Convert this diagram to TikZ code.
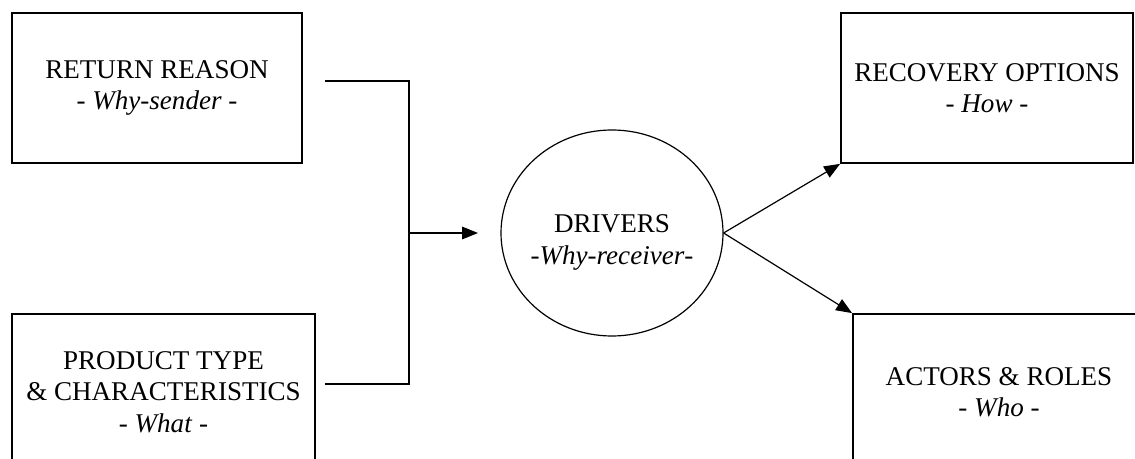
\documentclass[tikz,border=0pt]{standalone}
\usepackage{fontspec}
\setmainfont{Liberation Serif}
\usetikzlibrary{shapes.geometric,arrows.meta}

\tikzset{every picture/.style={line width=0.75pt}}
\tikzset{
  box/.style={draw, line width=1.3pt, align=center, inner sep=0pt, font=\fontsize{20.3}{23.5}\selectfont},
  hub/.style={draw, ellipse, line width=0.9pt, inner sep=0pt, minimum width=166.5pt, minimum height=154.5pt},
  hubtext/.style={align=center, inner sep=0pt, font=\fontsize{20.3}{24.5}\selectfont},
  link/.style={line width=0.9pt},
  arrowlink/.style={line width=0.9pt, -{Triangle[length=12pt,width=9.5pt]}}
}

\begin{document}
\begin{tikzpicture}[x=0.75pt,y=0.75pt,yscale=-1,xscale=1]
\path[use as bounding box, clip] (0,0) rectangle (1135,459);

% Boxes
\node (reason) [box, minimum width=217.5pt, minimum height=112.5pt] at (157,88) {RETURN REASON\\- \textit{Why-sender} -};
\node (product) [box, minimum width=227pt, minimum height=117pt] at (163.5,392) {PRODUCT TYPE\\\& CHARACTERISTICS\\- \textit{What} -};
\node (recovery) [box, minimum width=219pt, minimum height=112.5pt] at (987,88) {RECOVERY OPTIONS\\- \textit{How} -};
\node (actors) [box, minimum width=219pt, minimum height=117pt] at (999,392) {ACTORS \& ROLES\\- \textit{Who} -};

% Ellipse
\node (drivers) [hub] at (612,233) {};
\node (driverstext) [hubtext] at (612,242.5) {DRIVERS\\-\textit{Why-receiver}-};

% Bracket
\coordinate (rtop) at (325,81);
\coordinate (rbot) at (325,384);
\coordinate (jtop) at (409,81);
\coordinate (jmid) at (409,233);
\coordinate (jbot) at (409,384);
\coordinate (tip) at (478,233);
\draw [link] (rtop) -- (jtop) -- (jbot) -- (rbot);
\draw [arrowlink] (jmid) -- (tip);

% Outgoing arrows
\draw [arrowlink] (drivers.east) -- (recovery.south west);
\draw [arrowlink] (drivers.east) -- (actors.north west);

\end{tikzpicture}
\end{document}
